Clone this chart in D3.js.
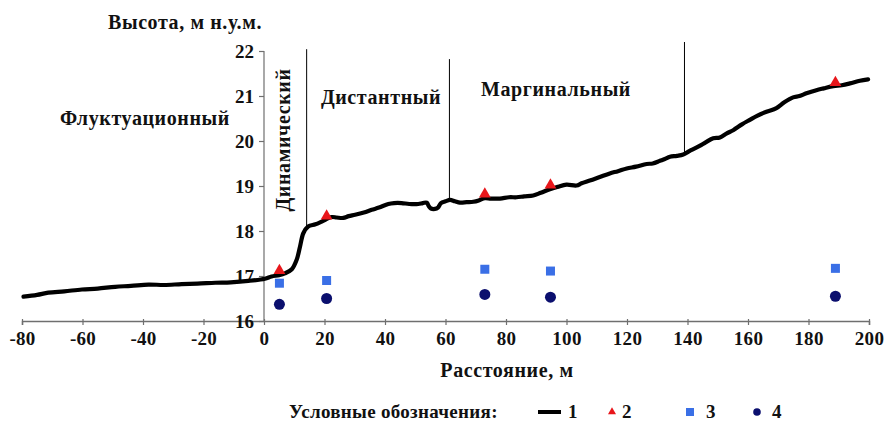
<!DOCTYPE html>
<html>
<head>
<meta charset="utf-8">
<script src="https://cdn.jsdelivr.net/npm/d3@7"></script>
<style>
  html, body { margin: 0; padding: 0; background: #fff; }
  svg { display: block; }
</style>
</head>
<body>
<svg id="chart" width="885" height="427" font-family="Liberation Serif" font-weight="bold"></svg>
<script>
// ---- Data ----
const profileX = [-79.5,-75,-71.3,-66,-60.2,-55,-49.2,-44,-38.2,-33,-27.2,-22,-16.1,-11,-5.2,0.3,2.5,5,6.9,9.2,10.8,11.9,13,14.6,17,19.1,22.4,24,26.2,28,30.1,33,35.6,38,41.1,43,45.5,48,51,52.5,53.8,54.5,55.2,56.5,57.5,58.5,60,61.5,63.1,64.8,67,69.2,71,73,75,78,81,83.5,86,89,91.5,94.5,97,100,103.3,105,107.7,111,114.3,117,119.9,123,126.5,128.5,130.9,132.5,134.2,136.5,138.6,141,144,146,148.5,150.7,153,155.1,158,160.6,163,166.1,169.4,172,174.9,177,179.3,182.6,185,188.2,191,193.7,197,199.7];
const profileY = [16.54,16.58,16.63,16.66,16.70,16.72,16.76,16.78,16.81,16.80,16.82,16.83,16.85,16.86,16.89,16.94,16.99,17.02,17.06,17.15,17.36,17.65,17.95,18.10,18.15,18.21,18.31,18.30,18.29,18.33,18.36,18.41,18.47,18.52,18.60,18.62,18.62,18.60,18.60,18.62,18.63,18.55,18.50,18.49,18.52,18.62,18.66,18.69,18.66,18.63,18.64,18.65,18.68,18.73,18.72,18.72,18.75,18.75,18.77,18.79,18.85,18.93,18.98,19.03,19.01,19.06,19.12,19.20,19.28,19.33,19.39,19.43,19.49,19.50,19.56,19.60,19.65,19.67,19.70,19.79,19.89,19.97,20.06,20.08,20.17,20.24,20.37,20.47,20.56,20.65,20.73,20.86,20.97,21.00,21.06,21.13,21.17,21.22,21.24,21.28,21.34,21.37];

const markX = [5.1, 20.7, 73.0, 94.7, 188.9];
const series2 = [17.12, 18.33, 18.82, 19.02, 21.30];   // triangles
const series3 = [16.84, 16.90, 17.15, 17.11, 17.17];   // squares
const series4 = [16.37, 16.50, 16.59, 16.53, 16.55];   // circles

const boundaryX = [14.1, 61.3, 139.0];
const boundaryTop = [22.04, 21.82, 22.20];

const zoneLabels = ["Флуктуационный", "Динамический", "Дистантный", "Маргинальный"];
const xTicks = [-80,-60,-40,-20,0,20,40,60,80,100,120,140,160,180,200];
const yTicks = [16,17,18,19,20,21,22];
const legendLabels = ["1","2","3","4"];

// ---- Scales ----
const svg = d3.select("#chart");
const x = d3.scaleLinear().domain([-80, 200]).range([22, 869]);
const y = d3.scaleLinear().domain([16, 22]).range([321, 51]);
const axisColor = "#6f6f6f";
const FONT = "Liberation Serif";
const styleText = (sel, size, ls) => sel.attr("font-family", FONT).attr("font-weight", "bold")
  .attr("font-size", size || 19).attr("fill", "#111")
  .attr("style", `font-family:'Liberation Serif','DejaVu Serif',serif;font-weight:bold;font-size:${size || 19}px;letter-spacing:${ls || 0}px`);

// X axis
const xAxis = svg.append("g").attr("transform", `translate(0,${y(16)})`)
  .call(d3.axisBottom(x).tickValues(xTicks).tickSize(4).tickPadding(6).tickFormat(d => String(d)));
xAxis.attr("font-family", FONT).attr("font-size", 19);
xAxis.select(".domain").attr("stroke", axisColor).attr("stroke-width", 1.5);
xAxis.selectAll(".tick line").attr("stroke", axisColor).attr("stroke-width", 1.2).attr("y1", -2);
xAxis.selectAll(".tick text").call(styleText, 19, 0.3).attr("dy", "0.75em");

// Y axis
const yAxis = svg.append("g").attr("transform", `translate(${x(0)},0)`)
  .call(d3.axisLeft(y).tickValues(yTicks).tickSize(5).tickPadding(5).tickFormat(d => String(d)));
yAxis.attr("font-family", FONT).attr("font-size", 19);
yAxis.select(".domain").attr("stroke", axisColor).attr("stroke-width", 1.2).attr("d", `M0,${y(22)}V${y(16)}`);
yAxis.selectAll(".tick line").attr("stroke", axisColor).attr("stroke-width", 1.2);
yAxis.selectAll(".tick text").call(styleText, 19, 0);

// boundaries
const interp = xv => {
  for (let i = 0; i < profileX.length - 1; i++) {
    if (xv >= profileX[i] && xv <= profileX[i+1]) {
      const t = (xv - profileX[i]) / (profileX[i+1] - profileX[i]);
      return profileY[i] + t * (profileY[i+1] - profileY[i]);
    }
  }
  return profileY[profileY.length - 1];
};
svg.append("g").selectAll("line").data(boundaryX).join("line")
  .attr("x1", d => x(d)).attr("x2", d => x(d))
  .attr("y1", (d, i) => y(boundaryTop[i])).attr("y2", d => y(interp(d)))
  .attr("stroke", "#000").attr("stroke-width", 1);

// profile line
const line = d3.line().x((d, i) => x(profileX[i])).y(d => y(d)).curve(d3.curveCatmullRom.alpha(0.5));
svg.append("path").datum(profileY).attr("d", line)
  .attr("fill", "none").attr("stroke", "#000").attr("stroke-width", 4.2)
  .attr("stroke-linejoin", "round").attr("stroke-linecap", "round");

// markers
const tri = d3.symbol().type(d3.symbolTriangle).size(60);
svg.append("g").selectAll("path").data(series2).join("path")
  .attr("d", tri).attr("transform", (d, i) => `translate(${x(markX[i])},${y(d)})`)
  .attr("fill", "#e8161b");
svg.append("g").selectAll("rect").data(series3).join("rect")
  .attr("x", (d, i) => x(markX[i]) - 4.5).attr("y", d => y(d) - 4.5)
  .attr("width", 9).attr("height", 9).attr("fill", "#3a6fe6");
svg.append("g").selectAll("circle").data(series4).join("circle")
  .attr("cx", (d, i) => x(markX[i])).attr("cy", d => y(d)).attr("r", 5.5)
  .attr("fill", "#0b0f6e");

// texts
const T = (xx, yy, s, anchor, size, ls) => svg.append("text").attr("x", xx).attr("y", yy)
  .attr("text-anchor", anchor || "middle").call(styleText, size || 20, ls == null ? 0.6 : ls).text(s);
T(185, 29, "Высота, м н.у.м.");
T(507, 377, "Расстояние, м");
T(145, 125, zoneLabels[0]);
svg.append("text").attr("transform", "translate(290,140) rotate(-90)").attr("text-anchor", "middle").call(styleText, 20, 0.6).text(zoneLabels[1]);
T(381, 104, zoneLabels[2]);
T(556, 96, zoneLabels[3]);

// legend
const ly = 418;
T(289, ly, "Условные обозначения:", "start", 19, 0.3);
svg.append("line").attr("x1", 538).attr("x2", 561).attr("y1", ly - 6).attr("y2", ly - 6).attr("stroke", "#000").attr("stroke-width", 4);
svg.append("path").attr("d", d3.symbol().type(d3.symbolTriangle).size(28)).attr("transform", `translate(612,${ly - 6})`).attr("fill", "#e8161b");
svg.append("rect").attr("x", 686).attr("y", ly - 10).attr("width", 8).attr("height", 8).attr("fill", "#3a6fe6");
svg.append("circle").attr("cx", 757).attr("cy", ly - 6).attr("r", 3.8).attr("fill", "#0b0f6e");
const legX = [568, 622, 706, 772];
svg.append("g").selectAll("text").data(legendLabels).join("text")
  .attr("x", (d, i) => legX[i]).attr("y", ly).call(styleText, 19, 0).text(d => d);
</script>
</body>
</html>
